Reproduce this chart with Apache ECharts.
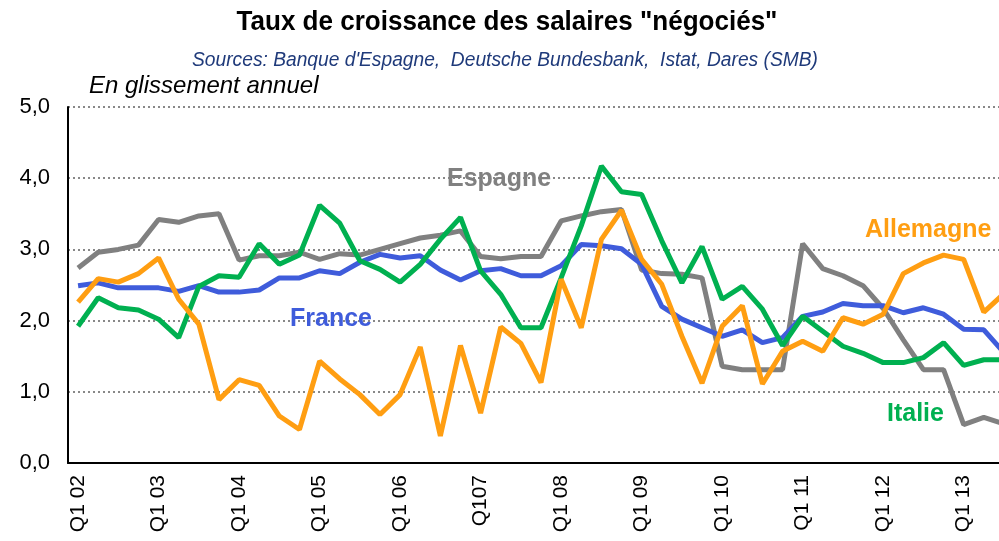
<!DOCTYPE html>
<html>
<head>
<meta charset="utf-8">
<script src="https://cdn.jsdelivr.net/npm/echarts@6/dist/echarts.min.js"></script>
<style>
  html, body { margin: 0; padding: 0; background: #fff; overflow: hidden; }
  /* le graphique est coupé à droite, comme l'original */
  #main { width: 1014px; height: 541px; }
</style>
</head>
<body>
<div id="main"></div>
<script>
// trimestres Q1 02 .. Q3 13
var quarters = [
  'Q1 02', 'Q2 02', 'Q3 02', 'Q4 02',
  'Q1 03', 'Q2 03', 'Q3 03', 'Q4 03',
  'Q1 04', 'Q2 04', 'Q3 04', 'Q4 04',
  'Q1 05', 'Q2 05', 'Q3 05', 'Q4 05',
  'Q1 06', 'Q2 06', 'Q3 06', 'Q4 06',
  'Q107', 'Q2 07', 'Q3 07', 'Q4 07',
  'Q1 08', 'Q2 08', 'Q3 08', 'Q4 08',
  'Q1 09', 'Q2 09', 'Q3 09', 'Q4 09',
  'Q1 10', 'Q2 10', 'Q3 10', 'Q4 10',
  'Q1 11', 'Q2 11', 'Q3 11', 'Q4 11',
  'Q1 12', 'Q2 12', 'Q3 12', 'Q4 12',
  'Q1 13', 'Q2 13', 'Q3 13'
];

var espagne = [
  2.74, 2.96, 3.00, 3.06, 3.42, 3.38, 3.47, 3.50, 2.85, 2.91, 2.91, 2.96,
  2.86, 2.94, 2.92, 3.00, 3.08, 3.16, 3.20, 3.26, 2.90, 2.87, 2.90, 2.90,
  3.40, 3.47, 3.53, 3.56, 2.71, 2.66, 2.65, 2.60, 1.36, 1.31, 1.31, 1.31,
  3.08, 2.73, 2.63, 2.49, 2.17, 1.73, 1.31, 1.31, 0.54, 0.64, 0.55
];

var france = [
  2.49, 2.53, 2.46, 2.46, 2.46, 2.41, 2.49, 2.40, 2.40, 2.43, 2.60, 2.60,
  2.70, 2.66, 2.82, 2.93, 2.88, 2.91, 2.71, 2.57, 2.70, 2.73, 2.63, 2.63,
  2.77, 3.07, 3.05, 3.01, 2.79, 2.20, 2.02, 1.90, 1.78, 1.87, 1.69, 1.76,
  2.06, 2.12, 2.24, 2.21, 2.21, 2.11, 2.18, 2.09, 1.88, 1.87, 1.55
];

var allemagne = [
  2.26, 2.59, 2.54, 2.66, 2.88, 2.30, 1.95, 0.89, 1.17, 1.09, 0.66, 0.47,
  1.43, 1.18, 0.96, 0.68, 0.96, 1.63, 0.38, 1.65, 0.70, 1.91, 1.68, 1.13,
  2.58, 1.90, 3.14, 3.55, 2.86, 2.51, 1.78, 1.12, 1.92, 2.21, 1.11, 1.57,
  1.71, 1.57, 2.04, 1.95, 2.09, 2.66, 2.81, 2.92, 2.86, 2.12, 2.38
];

var italie = [
  1.92, 2.32, 2.18, 2.15, 2.02, 1.76, 2.48, 2.63, 2.61, 3.08, 2.79, 2.92,
  3.62, 3.37, 2.84, 2.72, 2.54, 2.79, 3.14, 3.45, 2.70, 2.37, 1.90, 1.90,
  2.60, 3.33, 4.17, 3.81, 3.77, 3.12, 2.53, 3.04, 2.30, 2.48, 2.16, 1.65,
  2.06, 1.85, 1.64, 1.54, 1.41, 1.41, 1.48, 1.69, 1.37, 1.45, 1.45
];

var BLUE = '#3F5CDB';
var GREEN = '#00B050';
var ORANGE = '#FF9E12';
var GREY = '#808080';
var SANS = '"Liberation Sans", Arial, sans-serif';

var myChart = echarts.init(document.getElementById('main'));

function line(name, data, color) {
  return {
    name: name,
    type: 'line',
    data: data,
    symbol: 'none',
    lineStyle: { color: color, width: 5 },
    itemStyle: { color: color },
    z: 3
  };
}

// textes du haut, un peu tassés (police "narrow" de l'original)
function headText(txt, x, y, font, color, sx, align) {
  return {
    type: 'text', x: x, y: y, scaleX: sx, z: 10,
    style: { text: txt, font: font, fill: color, textAlign: align || 'center', textVerticalAlign: 'middle' }
  };
}

function seriesLabel(txt, left, top, color) {
  return {
    type: 'text', left: left, top: top, z: 10,
    style: { text: txt, fill: color, font: 'bold 25px ' + SANS }
  };
}

var option = {
  backgroundColor: '#fff',
  animation: false,
  grid: { left: 68, right: 0, top: 107, bottom: 78 },
  xAxis: {
    type: 'category',
    data: quarters,
    boundaryGap: true,
    axisLine: { lineStyle: { color: '#000', width: 2 } },
    axisTick: { show: false },
    axisLabel: {
      interval: 3,
      rotate: 90,
      margin: 12,
      fontFamily: SANS,
      fontSize: 21,
      color: '#000'
    },
    splitLine: { show: false }
  },
  yAxis: {
    type: 'value',
    min: 0, max: 5, interval: 1,
    axisLine: { show: true, lineStyle: { color: '#000', width: 2 } },
    axisTick: { show: false },
    axisLabel: {
      margin: 18,
      fontFamily: SANS,
      fontSize: 22,
      color: '#000',
      formatter: function (v) { return v.toFixed(1).replace('.', ','); }
    },
    splitLine: { lineStyle: { color: '#888', type: [2, 3], width: 2 } }
  },
  graphic: [
    headText('Taux de croissance des salaires "négociés"', 507, 22, 'bold 28px ' + SANS, '#000', 0.93),
    headText("Sources: Banque d'Espagne,  Deutsche Bundesbank,  Istat, Dares (SMB)", 505, 60, 'italic 20px ' + SANS, '#1F3A7A', 0.96),
    headText('En glissement annuel', 89, 86, 'italic 24px ' + SANS, '#000', 1, 'left'),
    seriesLabel('Espagne', 447, 167, GREY),
    seriesLabel('France', 290, 307, BLUE),
    seriesLabel('Allemagne', 865, 218, ORANGE),
    seriesLabel('Italie', 887, 402, GREEN)
  ],
  series: [
    line('Espagne', espagne, GREY),
    line('France', france, BLUE),
    line('Italie', italie, GREEN),
    line('Allemagne', allemagne, ORANGE)
  ]
};

myChart.setOption(option);
</script>
</body>
</html>
